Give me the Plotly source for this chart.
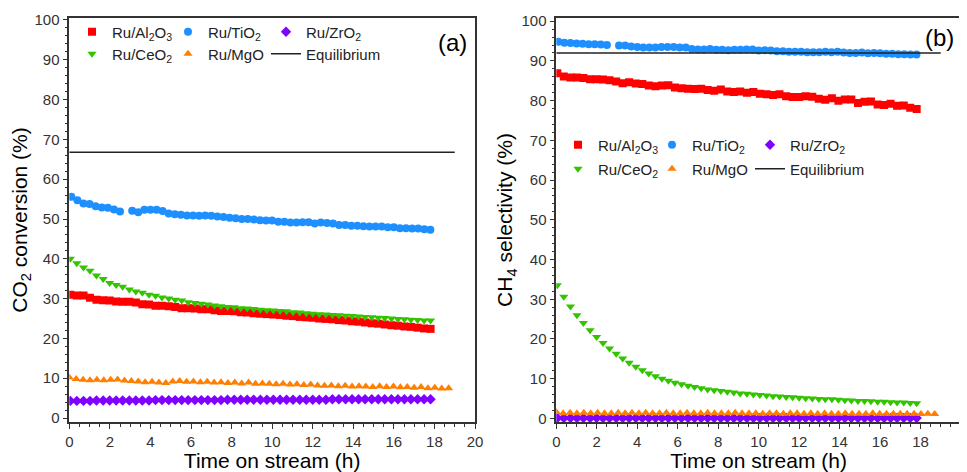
import plotly.graph_objects as go

# ---- time grids (h) ----
t_main = [0.05, 0.37, 0.70, 1.02, 1.34, 1.67, 1.99, 2.31, 2.63, 2.96, 3.28, 3.60, 3.93, 4.25,
          4.57, 4.90, 5.22, 5.54, 5.86, 6.19, 6.51, 6.83, 7.16, 7.48, 7.80, 8.13, 8.45, 8.77,
          9.09, 9.42, 9.74, 10.06, 10.39, 10.71, 11.03, 11.36, 11.68, 12.00, 12.32, 12.65,
          12.97, 13.29, 13.62, 13.94, 14.26, 14.58, 14.91, 15.23, 15.55, 15.88, 16.20, 16.52,
          16.84, 17.17, 17.49, 17.81]
t_tio2 = [0.1, 0.4, 0.7, 1.0, 1.3, 1.6, 1.9, 2.2, 2.5, 2.8, 3.1, 3.4, 3.7, 4.0, 4.3, 4.6, 4.9,
          5.2, 5.5, 5.8, 6.1, 6.4, 6.7, 7.0, 7.3, 7.6, 7.9, 8.2, 8.5, 8.8, 9.1, 9.4, 9.7, 10.0,
          10.3, 10.6, 10.9, 11.2, 11.5, 11.8, 12.1, 12.4, 12.7, 13.0, 13.3, 13.6, 13.9, 14.2,
          14.5, 14.8, 15.1, 15.4, 15.7, 16.0, 16.3, 16.6, 16.9, 17.2, 17.5, 17.8]
t_mgo = [0.00, 0.34, 0.68, 1.02, 1.36, 1.70, 2.04, 2.38, 2.72, 3.06, 3.40, 3.74, 4.08, 4.42,
         4.76, 5.10, 5.44, 5.78, 6.12, 6.46, 6.80, 7.14, 7.48, 7.82, 8.16, 8.50, 8.84, 9.18,
         9.52, 9.86, 10.20, 10.54, 10.88, 11.22, 11.56, 11.90, 12.24, 12.58, 12.92, 13.26,
         13.60, 13.94, 14.28, 14.62, 14.96, 15.30, 15.64, 15.98, 16.32, 16.66, 17.00, 17.34,
         17.68, 18.02, 18.36, 18.70]
t_eq = [0, 19]

# ---- (a) CO2 conversion (%) ----
conv_al2o3 = [31.0, 30.8, 30.8, 30.2, 29.7, 29.6, 29.5, 29.3, 29.2, 29.2, 29.0, 28.6, 28.5, 28.2,
              28.2, 28.1, 27.9, 27.6, 27.6, 27.5, 27.3, 27.3, 27.1, 26.9, 26.9, 26.8, 26.6, 26.5,
              26.3, 26.2, 26.1, 26.0, 25.9, 25.7, 25.6, 25.4, 25.3, 25.2, 25.0, 24.9, 24.8, 24.6,
              24.5, 24.3, 24.2, 24.0, 23.8, 23.7, 23.5, 23.3, 23.2, 23.0, 22.9, 22.7, 22.5, 22.4]
conv_tio2 = [55.6, 54.7, 53.9, 53.8, 53.2, 52.9, 52.8, 52.4, 51.9, None, 52.1, 51.7, 52.3, 52.3,
             52.3, 52.0, 51.4, 51.2, 51.1, 50.9, 50.9, 50.8, 50.9, 50.8, 50.6, 50.5, 50.3, 50.2,
             50.0, 50.0, 49.9, 49.7, 49.6, 49.6, 49.3, 49.3, 49.1, 49.1, 49.2, 49.2, 48.9, 49.1,
             49.0, 48.9, 48.5, 48.5, 48.3, 48.3, 48.2, 48.1, 48.1, 48.1, 47.9, 47.9, 47.7, 47.7,
             47.6, 47.6, 47.4, 47.3]
conv_zro2 = [4.3, 4.3, 4.3, 4.3, 4.4, 4.4, 4.4, 4.4, 4.4, 4.4, 4.4, 4.4, 4.4, 4.5, 4.5, 4.5,
             4.5, 4.5, 4.5, 4.5, 4.5, 4.5, 4.5, 4.5, 4.6, 4.6, 4.6, 4.6, 4.6, 4.6, 4.6, 4.6,
             4.6, 4.6, 4.6, 4.6, 4.6, 4.6, 4.6, 4.6, 4.7, 4.7, 4.7, 4.7, 4.7, 4.7, 4.7, 4.7,
             4.7, 4.7, 4.7, 4.7, 4.7, 4.7, 4.7, 4.7]
conv_ceo2 = [40.0, 38.9, 37.8, 37.0, 35.8, 34.9, 33.9, 33.4, 33.0, 32.3, 31.8, 31.5, 31.0, 30.7,
             30.3, 30.0, 29.7, 29.5, 29.1, 28.9, 28.7, 28.5, 28.3, 28.1, 27.9, 27.8, 27.6, 27.5,
             27.4, 27.2, 27.1, 27.0, 26.9, 26.8, 26.6, 26.5, 26.3, 26.2, 26.1, 26.0, 25.9, 25.8,
             25.7, 25.6, 25.5, 25.4, 25.3, 25.2, 25.1, 25.0, 24.9, 24.8, 24.7, 24.6, 24.5, 24.5]
conv_mgo = [10.2, 9.8, 9.6, 9.5, 9.6, 9.5, 9.6, 9.7, 9.4, 9.3, 9.2, 9.0, 9.1, 8.9, 8.8, 9.2,
            9.3, 9.1, 9.2, 9.0, 9.1, 8.9, 9.0, 8.8, 8.9, 8.7, 8.9, 8.6, 8.7, 8.6, 8.5, 8.6,
            8.4, 8.5, 8.3, 8.4, 8.2, 8.1, 8.2, 8.0, 8.1, 7.9, 8.0, 7.9, 7.8, 8.0, 7.8, 7.9,
            7.7, 7.8, 7.6, 7.8, 7.5, 7.6, 7.4, 7.5]
conv_eq = [66.8, 66.8]

# ---- (b) CH4 selectivity (%) ----
sel_al2o3 = [86.9, 86.1, 85.8, 85.8, 85.7, 85.4, 85.4, 85.3, 85.1, 84.8, 84.4, 84.6, 84.3, 84.2,
             83.8, 83.6, 83.8, 83.9, 83.3, 83.1, 83.0, 82.9, 83.0, 82.7, 82.5, 82.8, 82.3, 82.2,
             82.3, 82.0, 82.2, 81.7, 81.6, 81.4, 81.6, 81.1, 80.9, 80.9, 81.1, 81.0, 80.5, 80.2,
             80.6, 80.0, 80.3, 80.3, 79.4, 79.7, 79.8, 79.0, 78.9, 79.2, 78.7, 78.8, 78.2, 77.9]
sel_tio2 = [94.8, 94.6, 94.5, 94.4, 94.3, 94.2, 94.2, 94.1, 94.0, None, 93.9, 93.9, 93.6, 93.5,
            93.4, 93.4, 93.4, 93.5, 93.5, 93.5, 93.4, 93.4, 93.0, 92.9, 92.9, 93.0, 92.8, 92.8,
            92.7, 92.8, 92.8, 92.9, 92.9, 92.6, 92.7, 92.6, 92.4, 92.4, 92.3, 92.3, 92.3, 92.2,
            92.2, 92.2, 92.3, 92.2, 92.3, 92.1, 92.0, 92.0, 92.1, 91.9, 92.0, 91.9, 91.8, 91.8,
            91.7, 91.7, 91.6, 91.6]
sel_zro2 = [0.1, 0.1, 0.1, 0.1, 0.1, 0.1, 0.1, 0.1, 0.1, 0.1, 0.1, 0.1, 0.1, 0.1, 0.1, 0.1,
            0.1, 0.1, 0.1, 0.1, 0.1, 0.1, 0.1, 0.1, 0.1, 0.1, 0.1, 0.1, 0.1, 0.1, 0.1, 0.1,
            0.1, 0.1, 0.1, 0.1, 0.1, 0.1, 0.1, 0.1, 0.1, 0.1, 0.1, 0.1, 0.1, 0.1, 0.1, 0.1,
            0.1, 0.1, 0.1, 0.1, 0.1, 0.1, 0.1, 0.1]
sel_ceo2 = [33.5, 30.6, 28.2, 26.0, 24.0, 22.2, 20.5, 19.0, 17.6, 16.3, 15.1, 14.0, 13.0, 12.1,
            11.3, 10.6, 10.0, 9.5, 9.0, 8.6, 8.2, 7.9, 7.6, 7.3, 7.1, 6.9, 6.7, 6.5, 6.3, 6.2,
            6.0, 5.9, 5.8, 5.6, 5.5, 5.4, 5.3, 5.2, 5.1, 5.0, 4.9, 4.8, 4.8, 4.7, 4.6, 4.5,
            4.4, 4.4, 4.3, 4.2, 4.2, 4.1, 4.0, 4.0, 3.9, 3.8]
sel_mgo = [1.6, 1.3, 1.4, 1.3, 1.4, 1.3, 1.4, 1.3, 1.3, 1.4, 1.3, 1.4, 1.3, 1.4, 1.3, 1.3,
           1.4, 1.3, 1.3, 1.4, 1.3, 1.3, 1.4, 1.3, 1.3, 1.3, 1.4, 1.3, 1.3, 1.3, 1.2, 1.3,
           1.3, 1.2, 1.3, 1.3, 1.2, 1.3, 1.2, 1.3, 1.2, 1.2, 1.3, 1.2, 1.2, 1.2, 1.3, 1.2,
           1.2, 1.2, 1.2, 1.2, 1.2, 1.1, 1.2, 1.1]
sel_eq = [92.0, 92.0]

names = {
    "al2o3": "Ru/Al<sub>2</sub>O<sub>3</sub>",
    "tio2": "Ru/TiO<sub>2</sub>",
    "zro2": "Ru/ZrO<sub>2</sub>",
    "ceo2": "Ru/CeO<sub>2</sub>",
    "mgo": "Ru/MgO",
    "eq": "Equilibrium",
}
colors = {"al2o3": "#FF0000", "tio2": "#1E8FFF", "zro2": "#7F00FF",
          "ceo2": "#33C400", "mgo": "#FF7F00", "eq": "#000000"}
symbols = {"al2o3": "square", "tio2": "circle", "zro2": "diamond",
           "ceo2": "triangle-down", "mgo": "triangle-up"}
order = ["al2o3", "tio2", "zro2", "ceo2", "mgo", "eq"]

# The page body has an 8 px margin, so the figure is drawn 8 px in from the
# window's top-left corner; coordinates below are window pixels.
OFF = 8
W, H = 967 - OFF, 472 - OFF

def px(X):
    return (X - OFF) / W

def py(Y):
    return 1 - (Y - OFF) / H

fig = go.Figure()

def add_panel(xa, ya, data, first_legend):
    for i, key in enumerate(order):
        tx, vals = data[key]
        n = first_legend + i
        legend = "legend" if n == 1 else f"legend{n}"
        if key == "eq":
            fig.add_trace(go.Scatter(x=tx, y=vals, mode="lines", name=names[key],
                                     line=dict(color="#222222", width=1.5),
                                     xaxis=xa, yaxis=ya, legend=legend, showlegend=True))
        else:
            fig.add_trace(go.Scatter(x=tx, y=vals, mode="markers", name=names[key],
                                     marker=dict(symbol=symbols[key], size=8,
                                                 color=colors[key], line=dict(width=0)),
                                     xaxis=xa, yaxis=ya, legend=legend, showlegend=True))

add_panel("x", "y", {
    "al2o3": (t_main, conv_al2o3), "tio2": (t_tio2, conv_tio2), "zro2": (t_main, conv_zro2),
    "ceo2": (t_main, conv_ceo2), "mgo": (t_mgo, conv_mgo), "eq": (t_eq, conv_eq)}, 1)
add_panel("x2", "y2", {
    "al2o3": (t_main, sel_al2o3), "tio2": (t_tio2, sel_tio2), "zro2": (t_main, sel_zro2),
    "ceo2": (t_main, sel_ceo2), "mgo": (t_mgo, sel_mgo), "eq": (t_eq, sel_eq)}, 7)

ydom = [py(422), py(18)]
FONT = "Liberation Sans, Arial, sans-serif"
tickfont = dict(family=FONT, size=15, color="#333333")

def xaxis(dom, anchor):
    return dict(domain=dom, range=[0, 20], anchor=anchor, automargin=False,
                tickmode="linear", tick0=0, dtick=2,
                ticks="outside", ticklen=5, tickwidth=1.2, tickcolor="#333333",
                minor=dict(ticks="outside", ticklen=3, dtick=0.5, tickcolor="#333333", tickwidth=1),
                showline=True, linecolor="#333333", linewidth=1.5, mirror=True,
                showgrid=False, zeroline=False, tickfont=tickfont,
                title=dict(text="Time on stream (h)",
                           font=dict(family=FONT, size=21, color="#000000"), standoff=4))

def yaxis(anchor, rng, title):
    return dict(domain=ydom, range=rng, anchor=anchor, automargin=False,
                tickmode="linear", tick0=0, dtick=10,
                ticks="outside", ticklen=5, tickwidth=1.2, tickcolor="#333333",
                minor=dict(ticks="outside", ticklen=3, dtick=2, tickcolor="#333333", tickwidth=1),
                showline=True, linecolor="#333333", linewidth=1.5, mirror=True,
                showgrid=False, zeroline=False, tickfont=tickfont,
                title=dict(text=title, font=dict(family=FONT, size=21, color="#000000"),
                           standoff=3))

legfont = dict(family=FONT, size=15, color="#222222")

def leg(mx, my):
    # mx, my: window pixel position of the legend symbol centre
    return dict(orientation="h", x=px(mx - 20), y=py(my), xanchor="left", yanchor="middle",
                xref="paper", yref="paper", bgcolor="rgba(0,0,0,0)", font=legfont,
                itemwidth=30, borderwidth=0, visible=True)

leg_pos = [
    (92, 32), (188, 32), (286, 32), (92, 54), (188, 54), (286, 54),
    (578, 145), (672, 145), (770, 145), (578, 169), (672, 169), (770, 169),
]
legends = {}
for i, (mx, my) in enumerate(leg_pos):
    legends["legend" if i == 0 else f"legend{i + 1}"] = leg(mx, my)

fig.update_layout(
    width=W, height=H, margin=dict(l=0, r=0, t=0, b=0, autoexpand=False),
    paper_bgcolor="white", plot_bgcolor="white", showlegend=True,
    xaxis=xaxis([px(69.3), px(475)], "y"),
    yaxis=yaxis("x", [-1.0, 100.5], "CO<sub>2</sub> conversion (%)"),
    xaxis2=xaxis([px(556.3), px(961)], "y2"),
    yaxis2=yaxis("x2", [-0.9, 100.8], "CH<sub>4</sub> selectivity (%)"),
    annotations=[
        dict(text="(a)", x=px(452), y=py(42), xref="paper", yref="paper",
             xanchor="center", yanchor="middle", showarrow=False,
             font=dict(family=FONT, size=24, color="#000")),
        dict(text="(b)", x=px(939), y=py(37), xref="paper", yref="paper",
             xanchor="center", yanchor="middle", showarrow=False,
             font=dict(family=FONT, size=24, color="#000")),
    ],
    **legends,
)

fig.write_html("out.html")
